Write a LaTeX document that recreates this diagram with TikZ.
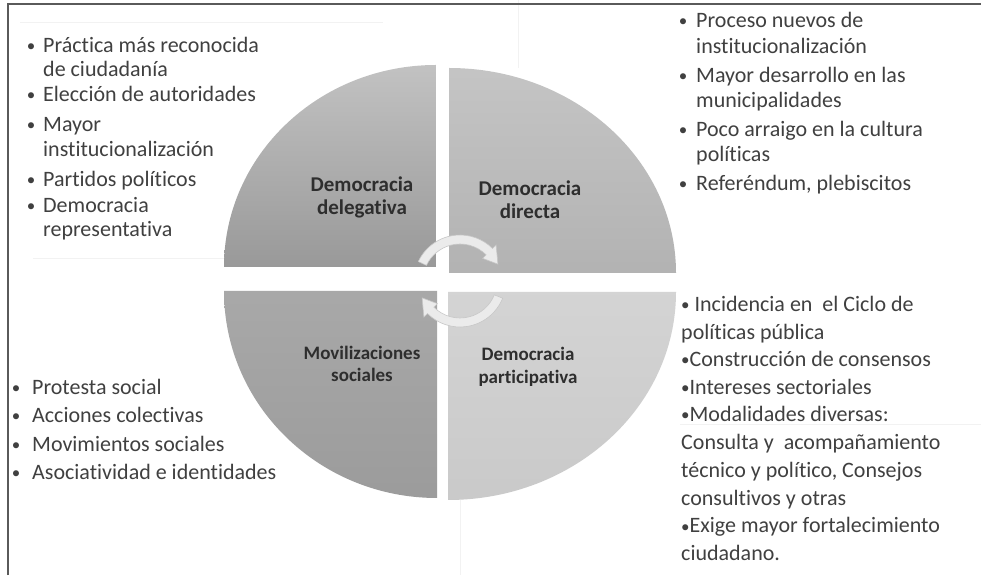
\documentclass[tikz,border=0pt]{standalone}
\usepackage{fontspec}
\setmainfont{Carlito}[Ligatures=NoCommon]
\definecolor{txt}{HTML}{404040}
\definecolor{lab}{HTML}{2E2E2E}
\definecolor{frame}{HTML}{5A5A5A}
\newcommand\smallbul{{\fontsize{17}{17}\selectfont\raisebox{1pt}{•}}}
\begin{document}
\begin{tikzpicture}[x=1pt,y=1pt,
  li/.style={anchor=base west, inner sep=0pt, text=txt, font=\fontsize{22}{24}\selectfont},
  bul/.style={anchor=base, inner sep=0pt, text=txt, font=\fontsize{22}{24}\selectfont},
  labtop/.style={anchor=base, inner sep=0pt, text=lab, font=\bfseries\fontsize{21}{23}\selectfont},
  labbot/.style={anchor=base, inner sep=0pt, text=lab, font=\bfseries\fontsize{19}{21}\selectfont},
  cyc/.style={fill=black!8, draw=black!22, line width=0.6pt},
  faint/.style={draw=black!5, line width=0.6pt},
  framestyle/.style={draw=frame, line width=1.8pt}
]
\useasboundingbox (0,0) rectangle (981,575);
\fill[white] (0,0) rectangle (981,575);

% faint table lines
\draw[faint] (20,553) -- (383,553);
\draw[faint] (33,317) -- (224,317);
\draw[faint] (680,151) -- (981,151);
\draw[faint] (460,75) -- (460,0);
\draw[faint] (518,575) -- (518,507);

% frame
\draw[framestyle] (8,0) -- (8,571) -- (981,571);

% quadrants
\shade[top color=black!24, bottom color=black!40]
  (436,308) -- (224,308) arc[start angle=180, end angle=90, x radius=212pt, y radius=202pt] -- cycle;
\shade[top color=black!23, bottom color=black!30]
  (449,302) -- (449,507) arc[start angle=90, end angle=0, x radius=227pt, y radius=205pt] -- cycle;
\shade[top color=black!34, bottom color=black!39]
  (437,284) -- (224,284) arc[start angle=180, end angle=270, x radius=213pt, y radius=207pt] -- cycle;
\shade[top color=black!17, bottom color=black!21]
  (448,283) -- (676,283) arc[start angle=0, end angle=-90, x radius=228pt, y radius=208pt] -- cycle;

% cycle arrows
\begin{scope}[shift={(460,294)}]
  \path[cyc] (155:46pt) arc[start angle=155, end angle=45, radius=46pt]
    -- (45:51pt) -- (24:41.5pt) -- (45:32pt) -- (45:37pt)
    arc[start angle=45, end angle=155, radius=37pt] -- cycle;
  \path[cyc] (-22:46pt) arc[start angle=-22, end angle=-135, radius=46pt]
    -- (-135:51pt) -- (-156:41.5pt) -- (-135:32pt) -- (-135:37pt)
    arc[start angle=-135, end angle=-22, radius=37pt] -- cycle;
\end{scope}

% quadrant labels
\node[labtop] (dl1) at (362,383) {Democracia};
\node[labtop] (dl2) at (362,360) {delegativa};
\node[labtop] (dd1) at (530,379) {Democracia};
\node[labtop] (dd2) at (530,356) {directa};
\node[labbot] (ms1) at (362,215) {Movilizaciones};
\node[labbot] (ms2) at (362,193) {sociales};
\node[labbot] (dp1) at (528,214) {Democracia};
\node[labbot] (dp2) at (528,191) {participativa};

% top-left list
\node[bul] (tlb1) at (31,522) {\smallbul};
\node[li] (tl1) at (43,522) {Práctica más reconocida};
\node[li] (tl2) at (43,498) {de ciudadanía};
\node[bul] (tlb2) at (31,473) {\smallbul};
\node[li] (tl3) at (43,473) {Elección de autoridades};
\node[bul] (tlb3) at (31,443) {\smallbul};
\node[li] (tl4) at (43,443) {Mayor};
\node[li] (tl5) at (43,418) {institucionalización};
\node[bul] (tlb4) at (31,388) {\smallbul};
\node[li] (tl6) at (43,388) {Partidos políticos};
\node[bul] (tlb5) at (31,362) {\smallbul};
\node[li] (tl7) at (43,362) {Democracia};
\node[li] (tl8) at (43,338) {representativa};

% top-right list
\node[bul] (trb1) at (683,547) {\smallbul};
\node[li] (tr1) at (696,547) {Proceso nuevos de};
\node[li] (tr2) at (696,521) {institucionalización};
\node[bul] (trb2) at (683,492) {\smallbul};
\node[li] (tr3) at (696,492) {Mayor desarrollo en las};
\node[li] (tr4) at (696,467) {municipalidades};
\node[bul] (trb3) at (683,438) {\smallbul};
\node[li] (tr5) at (696,438) {Poco arraigo en la cultura};
\node[li] (tr6) at (696,413) {políticas};
\node[bul] (trb4) at (683,384) {\smallbul};
\node[li] (tr7) at (696,384) {Referéndum, plebiscitos};

% bottom-left list
\node[bul] (blb1) at (16,180) {\smallbul};
\node[li] (bl1) at (32,180) {Protesta social};
\node[bul] (blb2) at (16,152) {\smallbul};
\node[li] (bl2) at (32,152) {Acciones colectivas};
\node[bul] (blb3) at (16,123) {\smallbul};
\node[li] (bl3) at (32,123) {Movimientos sociales};
\node[bul] (blb4) at (16,95) {\smallbul};
\node[li] (bl4) at (32,95) {Asociatividad e identidades};

% bottom-right list
\node[li] (br1) at (681,263) {\smallbul\ Incidencia en\ \ el Ciclo de};
\node[li] (br2) at (681,235) {políticas pública};
\node[li] (br3) at (681,208) {\smallbul Construcción de consensos};
\node[li] (br4) at (681,180) {\smallbul Intereses sectoriales};
\node[li] (br5) at (681,153) {\smallbul Modalidades diversas:};
\node[li] (br6) at (681,125) {Consulta y\ \ acompañamiento};
\node[li] (br7) at (681,97) {técnico y político, Consejos};
\node[li] (br8) at (681,70) {consultivos y otras};
\node[li] (br9) at (681,42) {\smallbul Exige mayor fortalecimiento};
\node[li] (br10) at (681,15) {ciudadano.};
\end{tikzpicture}
\end{document}
